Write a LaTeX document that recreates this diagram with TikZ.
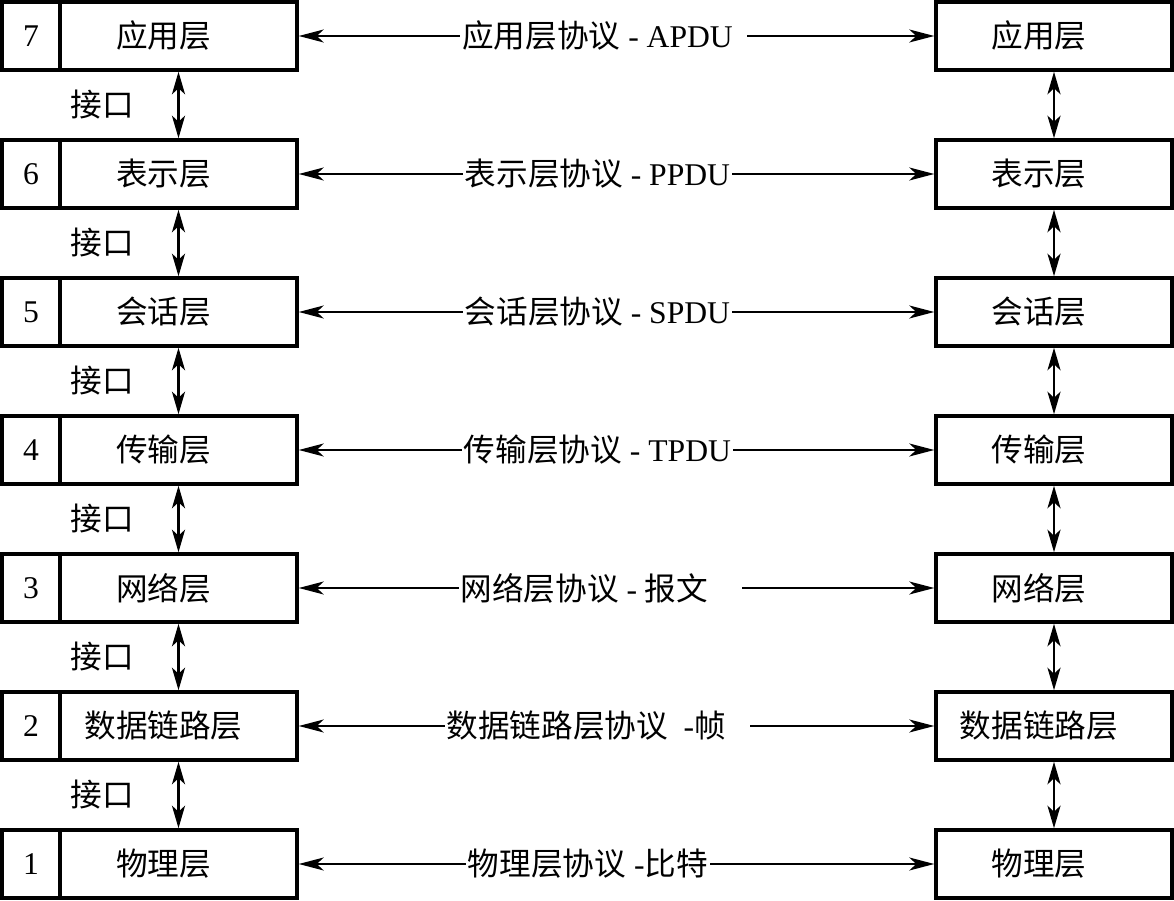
\documentclass[tikz,border=0pt]{standalone}
\usepackage{fontspec}
\setmainfont{Liberation Serif}
\newfontfamily\cjk{Noto Sans CJK SC}
\usetikzlibrary{arrows.meta}

\begin{document}
\begin{tikzpicture}[x=0.02cm, y=-0.02cm, font=\fontsize{18}{21}\selectfont,
  cell/.style={draw, line width=2pt, minimum height=1.36cm, inner sep=0pt},
  numcell/.style={cell, minimum width=1.16cm},
  namecell/.style={cell, minimum width=4.74cm, execute at end node=\hspace*{0.6cm}},
  peercell/.style={cell, minimum width=4.72cm, execute at end node=\hspace*{0.6cm}},
  proto/.style={{Stealth[length=0.5cm, width=0.26cm, inset=0.14cm]}-{Stealth[length=0.5cm, width=0.26cm, inset=0.14cm]}, line width=1.1pt},
  iface/.style={{Stealth[length=0.45cm, width=0.26cm, inset=0.12cm]}-{Stealth[length=0.45cm, width=0.26cm, inset=0.12cm]}, line width=1.6pt},
  lbl/.style={fill=white, inner xsep=1pt, inner ysep=0pt}]
\useasboundingbox (0,0) rectangle (1174,901);

% Layer 7
\node[numcell] (n7) at (31,36) {7};
\node[namecell] (l7) at (178.5,36) {\cjk 应用层};
\node[peercell] (r7) at (1054,36) {\cjk 应用层};
\draw[proto] (l7) -- (r7) node[lbl, pos=0.48] (p7) {{\cjk 应用层协议} - APDU\hspace*{0.25cm}};

% Layer 6
\node[numcell] (n6) at (31,174) {6};
\node[namecell] (l6) at (178.5,174) {\cjk 表示层};
\node[peercell] (r6) at (1054,174) {\cjk 表示层};
\draw[proto] (l6) -- (r6) node[lbl, pos=0.47] (p6) {{\cjk 表示层协议} - PPDU};

% Layer 5
\node[numcell] (n5) at (31,312) {5};
\node[namecell] (l5) at (178.5,312) {\cjk 会话层};
\node[peercell] (r5) at (1054,312) {\cjk 会话层};
\draw[proto] (l5) -- (r5) node[lbl, pos=0.47] (p5) {{\cjk 会话层协议} - SPDU};

% Layer 4
\node[numcell] (n4) at (31,450) {4};
\node[namecell] (l4) at (178.5,450) {\cjk 传输层};
\node[peercell] (r4) at (1054,450) {\cjk 传输层};
\draw[proto] (l4) -- (r4) node[lbl, pos=0.47] (p4) {{\cjk 传输层协议} - TPDU};

% Layer 3
\node[numcell] (n3) at (31,588) {3};
\node[namecell] (l3) at (178.5,588) {\cjk 网络层};
\node[peercell] (r3) at (1054,588) {\cjk 网络层};
\draw[proto] (l3) -- (r3) node[lbl, pos=0.475] (p3) {{\cjk 网络层协议} - {\cjk 报文}\hspace*{0.65cm}};

% Layer 2
\node[numcell] (n2) at (31,726) {2};
\node[namecell] (l2) at (178.5,726) {\cjk 数据链路层};
\node[peercell] (r2) at (1054,726) {\cjk 数据链路层};
\draw[proto] (l2) -- (r2) node[lbl, pos=0.47] (p2) {{\cjk 数据链路层协议}\ \ -{\cjk 帧}\hspace*{0.45cm}};

% Layer 1
\node[numcell] (n1) at (31,864) {1};
\node[namecell] (l1) at (178.5,864) {\cjk 物理层};
\node[peercell] (r1) at (1054,864) {\cjk 物理层};
\draw[proto] (l1) -- (r1) node[lbl, pos=0.455] (p1) {{\cjk 物理层协议} -{\cjk 比特}};

% Interfaces
\node (k76) at (102,105) {\cjk 接口};
\node (k65) at (102,243) {\cjk 接口};
\node (k54) at (102,381) {\cjk 接口};
\node (k43) at (102,519) {\cjk 接口};
\node (k32) at (102,657) {\cjk 接口};
\node (k21) at (102,795) {\cjk 接口};
\draw[iface] (l7) -- (l6);
\draw[iface] (l6) -- (l5);
\draw[iface] (l5) -- (l4);
\draw[iface] (l4) -- (l3);
\draw[iface] (l3) -- (l2);
\draw[iface] (l2) -- (l1);
\draw[iface] (r7) -- (r6);
\draw[iface] (r6) -- (r5);
\draw[iface] (r5) -- (r4);
\draw[iface] (r4) -- (r3);
\draw[iface] (r3) -- (r2);
\draw[iface] (r2) -- (r1);
\end{tikzpicture}
\end{document}
